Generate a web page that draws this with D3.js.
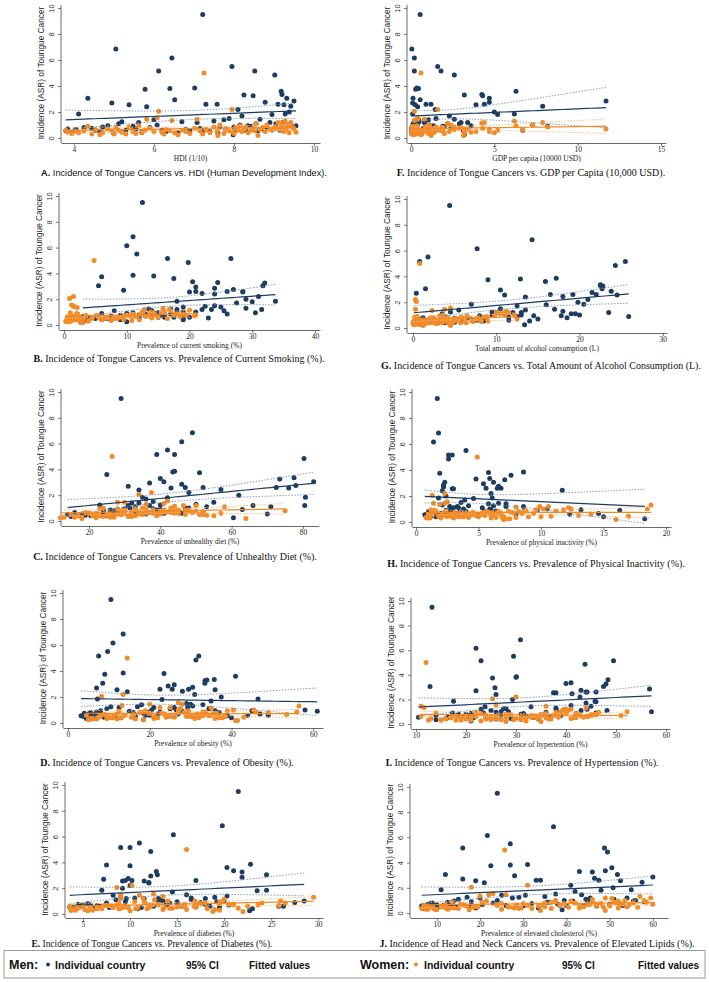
<!DOCTYPE html>
<html>
<head>
<meta charset="utf-8">
<script src="https://cdn.jsdelivr.net/npm/d3@7"></script>
<style>
  body { margin: 0; background: #fff; }
  svg { display: block; }
</style>
</head>
<body>
<div id="chart"></div>
<script>
// -------------------- DATA --------------------
// one entry per country, same order in every array

const menASR = [
  0.55, 0.70, 0.45, 0.65, 1.85, 0.80, 3.05, 0.75, 0.60, 0.50,
  0.85, 0.95, 2.70, 6.85, 1.10, 1.25, 0.60, 2.55, 0.90, 0.70,
  1.20, 0.45, 3.75, 2.40, 0.80, 1.40, 1.00, 5.15, 0.60, 0.50,
  3.80, 6.15, 2.95, 0.40, 1.25, 0.65, 0.55, 3.85, 1.20, 0.75,
  9.50, 0.60, 2.60, 0.50, 1.30, 2.60, 0.85, 1.40, 0.70, 1.50,
  5.50, 0.25, 0.60, 2.20, 1.00, 1.70, 3.30, 0.60, 0.95, 0.90,
  3.25, 5.15, 1.10, 0.55, 1.45, 0.70, 2.75, 0.80, 1.20, 1.80,
  4.85, 1.10, 2.60, 0.60, 3.60, 3.35, 1.20, 2.55, 1.85, 3.05,
  1.00, 2.00, 2.45, 0.90, 2.85, 0.95, 0.55, 0.40, 0.35, 0.85
];

const womenASR = [
  0.60, 0.45, 0.35, 0.50, 0.40, 0.55, 0.90, 0.30, 0.65, 0.25,
  0.40, 0.70, 0.55, 0.80, 0.60, 0.45, 0.30, 0.85, 0.50, 0.35,
  0.95, 0.40, 0.60, 1.45, 0.75, 0.50, 1.55, 2.05, 0.45, 0.65,
  0.55, 1.35, 0.40, 0.25, 0.60, 0.50, 0.35, 0.75, 1.45, 0.55,
  0.30, 5.00, 0.65, 0.40, 0.85, 0.50, 1.00, 0.35, 0.70, 0.55,
  2.20, 0.45, 0.80, 0.60, 0.95, 0.50, 0.70, 0.85, 0.40, 0.60,
  0.75, 0.55, 1.10, 0.20, 0.65, 0.80, 0.50, 1.00, 0.70, 0.60,
  0.85, 0.75, 1.20, 0.65, 0.95, 1.15, 0.80, 0.50, 1.30, 0.70,
  1.00, 0.40, 1.20, 0.85, 0.70, 0.45, 0.30, 0.20, 0.30, 0.35
];

// HDI (1/10), same for both sexes
const hdi = [
  3.80, 3.85, 3.95, 4.05, 4.12, 4.25, 4.35, 4.45, 4.55, 4.65,
  4.72, 4.85, 4.95, 5.05, 5.12, 5.20, 5.30, 5.38, 5.48, 5.55,
  5.62, 5.70, 5.78, 5.82, 5.90, 6.00, 6.08, 6.12, 6.20, 6.30,
  6.40, 6.45, 6.52, 6.60, 6.70, 6.80, 6.90, 7.02, 7.08, 7.15,
  7.22, 7.25, 7.30, 7.40, 7.50, 7.58, 7.65, 7.75, 7.80, 7.88,
  7.95, 7.98, 8.05, 8.10, 8.15, 8.20, 8.25, 8.30, 8.35, 8.42,
  8.48, 8.52, 8.55, 8.60, 8.65, 8.72, 8.78, 8.82, 8.90, 8.95,
  9.02, 9.05, 9.10, 9.15, 9.18, 9.20, 9.22, 9.25, 9.28, 9.32,
  9.35, 9.38, 9.42, 9.45, 9.50, 9.55, 6.25, 7.60, 5.00, 8.00
];

// GDP per capita (10000 USD), same for both sexes
const gdp = [
  0.05, 0.08, 0.04, 0.06, 0.10, 0.07, 0.12, 0.05, 0.09, 0.15,
  0.08, 0.18, 0.10, 0.05, 0.12, 0.20, 0.14, 0.25, 0.30, 0.22,
  0.35, 0.18, 0.28, 0.40, 0.32, 0.45, 0.38, 0.20, 0.50, 0.42,
  0.45, 0.20, 0.55, 0.60, 0.48, 0.70, 0.65, 0.35, 0.80, 0.75,
  0.55, 0.60, 0.90, 1.00, 0.85, 1.20, 1.10, 1.05, 1.30, 1.50,
  1.60, 3.20, 1.80, 1.45, 1.10, 2.30, 3.20, 1.50, 1.35, 1.90,
  4.30, 1.80, 2.20, 3.15, 2.60, 1.90, 4.70, 2.40, 3.40, 5.20,
  2.60, 2.90, 4.40, 6.70, 6.30, 4.25, 3.00, 3.90, 6.20, 4.70,
  7.30, 5.00, 7.90, 8.20, 11.70, 3.60, 0.30, 1.20, 0.06, 2.00
];

const smokeMen = [
  8, 14, 6, 12, 18, 10, 5.5, 9, 15, 7,
  13, 11, 9.5, 11, 8, 17, 4, 20, 14.5, 7.5,
  22, 3.5, 6, 24, 16, 19, 21, 16.5, 12, 5,
  14.3, 10, 21, 9, 13.5, 3, 23, 11, 18, 15.5,
  12.5, 9, 26, 6.5, 29, 28.5, 17, 25, 13, 24,
  11.6, 10, 20, 31, 19, 27.5, 24.5, 17.5, 30.5, 6,
  32, 26.6, 14, 19, 22.5, 9, 27, 12, 23.5, 30,
  19.8, 25.5, 21, 16, 17.5, 20.5, 31.5, 28.5, 33.7, 31.7,
  18, 29, 22, 10, 24, 15, 7, 19, 3.5, 26
];
const smokeWomen = [
  0.5, 1.2, 0.4, 0.8, 1.5, 0.6, 2.0, 0.3, 1.0, 0.5,
  1.8, 0.9, 2.5, 1.1, 0.7, 3.0, 0.4, 2.2, 1.3, 0.6,
  1.0, 0.5, 1.6, 1.5, 3.5, 0.8, 1.2, 0.9, 2.8, 1.4,
  4.5, 2.1, 6.0, 0.6, 3.2, 1.7, 7.5, 5.2, 1.5, 8.0,
  3.8, 4.8, 9.5, 2.4, 11.0, 6.5, 12.5, 4.0, 13.5, 7.0,
  1.5, 2.0, 14.5, 9.0, 15.5, 16.5, 10.5, 18.0, 12.0, 5.5,
  19.5, 14.0, 17.0, 3.0, 11.5, 21.0, 8.5, 16.0, 13.0, 15.0,
  19.0, 10.0, 12.8, 18.5, 14.2, 20.0, 17.5, 7.8, 15.8, 11.2,
  13.8, 9.5, 16.8, 12.2, 20.8, 6.2, 1.1, 2.6, 0.3, 10.8
];

const alcoholMen = [
  3, 0.3, 5, 0.5, 7, 1.2, 1.5, 2.5, 6, 0.2,
  4, 8, 0.4, 14.3, 3.5, 9.5, 0.6, 11, 12.5, 1.0,
  10, 0.1, 9.0, 13.5, 6.5, 5.5, 13.0, 0.8, 7.5, 2.0,
  12.9, 7.7, 10.5, 3.0, 4.5, 0.3, 8.5, 17.2, 12, 5,
  4.4, 0.7, 16.5, 2.2, 18, 19.2, 11.5, 13.5, 15, 10.5,
  1.8, 13.4, 8.0, 21, 20, 12.5, 22.5, 0.5, 17.8, 3.5,
  22.8, 25.5, 19.5, 14, 17, 7, 21.5, 18.5, 23.5, 16,
  24.3, 19, 22, 11.5, 15.9, 22.5, 13, 24.5, 20.5, 22.7,
  9.5, 19.8, 18, 25.9, 23.8, 14.5, 1.5, 3.8, 0.2, 8.8
];
const alcoholWomen = [
  0.8, 0.1, 1.5, 0.2, 2.0, 0.4, 0.5, 0.9, 2.2, 0.1,
  1.2, 2.5, 0.1, 4.0, 1.0, 3.0, 0.2, 3.5, 4.2, 0.3,
  3.2, 0.0, 2.8, 0.3, 2.0, 1.8, 4.5, 0.4, 2.4, 0.6,
  4.0, 2.3, 3.5, 0.9, 1.4, 0.1, 2.7, 5.5, 3.8, 1.6,
  1.3, 0.8, 5.2, 0.7, 5.8, 6.2, 3.6, 4.3, 4.8, 3.3,
  0.3, 4.3, 2.5, 7.0, 6.5, 4.0, 7.5, 0.2, 5.7, 1.1,
  7.8, 9.0, 10.5, 4.5, 5.5, 2.2, 7.2, 11.0, 8.0, 5.2,
  8.5, 6.2, 11.5, 3.8, 9.8, 10.8, 4.2, 8.2, 11.2, 7.6,
  12.2, 6.4, 10.0, 8.9, 12.5, 4.8, 0.5, 1.2, 0.1, 2.9
];

const dietMen = [
  22, 28, 18, 33, 35, 24, 41, 30, 36, 14,
  26, 38, 31, 49, 33, 23, 20, 43, 40, 27,
  37, 19, 51, 34, 45, 32, 47, 39, 29, 21,
  43.5, 46, 37, 25, 40, 16, 36, 44, 31, 28,
  29, 35, 47, 24, 50, 52, 39, 34, 45, 38,
  42, 60.5, 32, 48, 31.5, 36, 40, 46, 43, 63,
  73.5, 44, 71, 70, 55, 52, 78, 27, 66, 42,
  80.3, 53, 72.5, 41, 25, 77.5, 80.5, 76, 80.7, 83,
  48, 62, 57, 33, 46, 30, 18, 20.5, 15, 24
];
const dietWomen = [
  20, 25, 16, 29, 31, 22, 36, 27, 32, 12,
  23, 34, 28, 44, 30, 21, 18, 38, 35, 24,
  33, 17, 45, 30, 40, 29, 42, 34, 26, 19,
  39, 41, 33, 22, 36, 15, 32, 40, 28, 25,
  26, 26.5, 43, 21, 45, 47, 35, 31, 41, 34,
  37.5, 53, 29, 44, 28, 32, 36, 41, 39, 57,
  50, 40, 58, 64, 49, 47, 51, 24, 52, 38,
  48, 48, 46.5, 37, 23, 44, 75, 52, 36, 49,
  43, 55, 50, 30, 42, 27, 16, 18, 13, 22
];

const inactivityMen = [
  0.8, 1.5, 1.2, 2.0, 1.8, 1.0, 2.3, 3.5, 1.5, 1.1,
  5.5, 6.0, 2.2, 1.8, 3.0, 4.2, 2.2, 2.9, 2.4, 1.3,
  3.3, 0.9, 1.9, 2.1, 4.0, 5.8, 3.8, 2.6, 1.9, 1.0,
  5.8, 1.4, 5.4, 1.6, 6.2, 14.6, 1.2, 8.6, 2.7, 2.4,
  1.7, 5.0, 6.5, 2.0, 2.1, 5.6, 2.5, 7.2, 1.3, 3.6,
  4.0, 18.3, 0.9, 6.0, 5.9, 3.9, 4.8, 12.3, 2.8, 16.3,
  7.1, 2.9, 5.3, 1.7, 6.6, 3.1, 6.6, 2.8, 7.2, 4.6,
  2.6, 3.4, 6.8, 8.0, 7.6, 5.9, 8.6, 3.0, 6.1, 6.2,
  10.5, 2.4, 11.7, 9.7, 2.2, 13.2, 0.7, 15.0, 1.1, 6.4
];
const inactivityWomen = [
  1.0, 1.8, 0.8, 2.2, 2.5, 1.3, 1.5, 3.0, 4.0, 7.5,
  5.0, 6.5, 2.0, 1.6, 2.8, 3.6, 6.0, 2.4, 3.2, 8.0,
  1.2, 9.0, 2.6, 1.4, 4.5, 5.5, 2.5, 1.3, 7.0, 8.5,
  6.2, 1.9, 3.8, 7.2, 5.2, 13.0, 4.2, 5.8, 2.3, 6.8,
  2.0, 4.9, 3.5, 10.0, 8.6, 4.8, 10.2, 6.4, 4.6, 3.9,
  2.3, 17.0, 6.6, 5.4, 9.6, 3.3, 7.8, 11.2, 2.9, 14.0,
  7.6, 4.4, 12.2, 7.0, 5.9, 8.2, 3.6, 18.5, 6.8, 4.7,
  8.8, 3.1, 9.9, 9.4, 11.8, 8.0, 5.6, 2.7, 18.8, 6.1,
  12.4, 3.4, 10.6, 7.4, 5.3, 10.8, 0.9, 16.0, 1.1, 6.9
];

const obesityMen = [
  3.2, 5.0, 4.5, 6.5, 7.2, 5.5, 8.5, 4.0, 6.0, 3.8,
  7.0, 8.0, 7.0, 13.5, 9.5, 10.5, 5.2, 12, 15, 6.8,
  12.5, 8.8, 9.0, 14.5, 16, 18, 20.5, 7.5, 19, 11.5,
  23.5, 11, 26, 13, 17, 22, 24, 13.5, 21, 18.5,
  10.5, 20, 29.5, 16.5, 30.5, 25.5, 22.5, 33, 27, 29,
  9.7, 18.5, 24, 31, 26.5, 35, 34, 44, 36, 28,
  33.5, 32, 25, 39, 30, 47, 30.5, 37, 29.3, 23,
  31.3, 34.5, 22.5, 49, 41, 35.8, 26, 36, 46.5, 33.5,
  58, 37.5, 28, 61, 24.5, 45, 11.5, 40, 4.5, 20
];
const obesityWomen = [
  4.5, 7.5, 6.0, 10.0, 11.0, 8.0, 12.5, 5.5, 9.0, 5.0,
  10.5, 12.0, 11.0, 17.5, 14.0, 15.5, 7.0, 18.0, 21.0, 9.5,
  19.0, 13.0, 13.5, 20.0, 23.0, 25.0, 27.0, 8.2, 26.0, 16.0,
  30.0, 13.2, 32.0, 18.5, 24.0, 29.0, 31.0, 20.0, 28.0, 25.5,
  16.5, 14.5, 34.0, 22.0, 33.5, 30.5, 27.0, 36.0, 31.5, 33.0,
  13.5, 24.0, 28.5, 35.0, 29.5, 38.0, 36.5, 46.0, 37.0, 31.0,
  35.5, 34.5, 27.5, 41.0, 32.5, 49.0, 30.0, 40.5, 29.0, 26.0,
  33.0, 36.0, 22.5, 53.5, 39.0, 35.0, 27.0, 38.5, 56.5, 34.0,
  45.5, 37.8, 25.0, 56.0, 23.5, 43.0, 12.0, 41.5, 6.0, 21.0
];

const hypertensionMen = [
  10.5, 14, 16, 18, 17.5, 20, 12.8, 22, 19, 24,
  21, 26, 22, 30.9, 25, 28, 20.5, 38, 17.3, 27,
  23, 29, 25.3, 26, 31, 33, 28.5, 23, 32, 21.5,
  30, 22, 25.8, 34.5, 27.5, 36, 33.5, 30.1, 38, 35,
  13.2, 32, 44.2, 19, 38, 46, 42, 23.8, 39, 41,
  29.5, 21, 37, 42.8, 27, 44, 40, 16.5, 38.2, 46,
  48, 49.5, 43, 36.5, 45, 20, 43, 18.5, 39.8, 46,
  43.8, 48.2, 44, 34, 48.4, 41, 44.2, 37.5, 45.8, 47.5,
  57.1, 29.3, 41.2, 23.5, 56.7, 36, 16.5, 26, 14, 31.5
];
const hypertensionWomen = [
  11, 13, 15, 17, 16, 19, 14, 21, 18, 23,
  20, 24, 21, 28, 22, 26, 19, 23, 17, 25,
  22, 27, 25, 11, 29, 31, 26, 25.3, 30, 20,
  28, 11.6, 24, 32, 26, 34, 31, 28.5, 36, 33,
  18, 12, 35, 37, 36, 32, 39, 27, 37.5, 38.5,
  30, 41, 35, 34, 38, 42, 33, 40, 36.5, 44,
  45, 43.5, 40.5, 35, 43, 45.5, 41.5, 39, 38, 44.5,
  42, 46, 41, 33.5, 46.5, 39.5, 42.5, 36, 44, 45,
  52.2, 31, 40, 38.8, 51, 34.5, 15, 28, 12.5, 29.5
];

const diabetesMen = [
  3.6, 5.0, 4.2, 6.5, 7.0, 5.5, 12.9, 4.5, 8.0, 6.0,
  7.5, 9.5, 7.2, 19.8, 8.5, 10.5, 6.8, 9.2, 13.0, 5.8,
  11.5, 6.2, 10.0, 12.0, 14.0, 9.0, 13.5, 9.0, 15.5, 7.8,
  7.5, 14.6, 12.2, 10.8, 16.5, 4.8, 17, 22.8, 9.6, 18,
  21.5, 12.5, 17.0, 11.2, 19.0, 10.2, 15.0, 20.3, 13.8, 16.0,
  11.0, 22.7, 18.5, 10.0, 20.0, 14.5, 12.8, 25.8, 19.2, 17.5,
  21.9, 10.0, 13.2, 19.5, 8.2, 20.5, 9.8, 17.8, 13.0, 23.5,
  12.2, 16.5, 9.5, 26.3, 20.3, 21.0, 18.0, 11.5, 24.5, 24.5,
  28.5, 9.2, 12.0, 27.5, 21.9, 15.0, 4.0, 23.0, 3.8, 14.2
];
const diabetesWomen = [
  3.6, 4.5, 4.0, 5.8, 6.5, 5.0, 11.5, 4.2, 7.5, 5.5,
  7.0, 8.5, 6.5, 17.5, 8.0, 9.0, 6.0, 8.8, 12.0, 5.2,
  10.5, 5.8, 9.5, 11.0, 13.0, 8.2, 12.5, 8.6, 14.5, 7.2,
  7.0, 13.5, 11.8, 10.0, 15.5, 4.4, 16.0, 21.0, 9.0, 17.0,
  19.5, 16.0, 15.8, 10.6, 18.0, 9.8, 14.0, 19.0, 13.0, 15.0,
  10.2, 21.5, 17.5, 9.3, 19.8, 13.6, 12.0, 24.0, 18.2, 16.8,
  20.5, 9.5, 12.6, 18.8, 7.8, 19.5, 9.2, 16.9, 12.4, 22.5,
  11.6, 15.8, 9.0, 25.8, 19.6, 20.0, 17.2, 10.8, 29.5, 23.6,
  26.0, 8.8, 11.4, 26.5, 21.0, 14.2, 3.8, 22.0, 3.7, 13.5
];

const cholesterolMen = [
  6.5, 8, 7.5, 10, 11, 9, 12, 8.5, 13, 10.5,
  12.5, 14, 16, 37, 15, 17, 11.5, 19, 18, 13.5,
  20, 14.5, 22.5, 21, 23, 25, 24, 16, 26, 17.5,
  27, 21.7, 28, 19, 29, 20.5, 30, 31, 27.5, 32,
  24, 28.5, 33, 26.5, 35, 34, 36, 30.5, 38, 37.5,
  27, 39, 40, 41, 39.5, 42, 43, 44, 41.5, 45,
  46, 48.8, 44.5, 47, 43.5, 50, 46.5, 52, 45.5, 48,
  49.5, 51, 47.5, 53, 50.5, 49, 54, 52.5, 55, 51.8,
  56, 50.8, 57.5, 58, 60, 55.5, 7, 33.5, 6.8, 35.5
];
const cholesterolWomen = [
  7, 9, 6.5, 11, 12, 8, 13.5, 9.5, 12, 10,
  14, 15.5, 17, 35, 16.5, 18.5, 12.5, 20.5, 19, 15,
  21.5, 13, 24, 22, 25, 26.5, 23, 18, 27.5, 16,
  28.5, 20, 29.5, 17.5, 31, 19.5, 32, 30, 26, 33.5,
  25, 25.7, 34.5, 28, 36.5, 35, 37.5, 29, 39.5, 38.5,
  31, 40.5, 42, 43, 41, 44, 45.5, 46, 43, 47,
  48, 50, 46, 49, 45, 51.5, 48.5, 53.5, 47, 50,
  51, 52.5, 49, 54.5, 52, 50.5, 55.5, 54, 57, 53,
  58, 52, 59.5, 58.5, 60, 56.5, 8, 34, 7.5, 36.5
];

const yTicks = [0, 2, 4, 6, 8, 10];

// -------------------- LAYOUT --------------------

const width = 709, height = 982;
const menColor = "#1d3c61", womenColor = "#f28a26";
const menCIColor = "#7f93ad", womenCIColor = "#f6b877";

const panels = [
  { letter: "A.", caption: " Incidence of Tongue Cancers vs. HDI (Human Development Index).", sansCaption: true,
    xTitle: "HDI (1/10)", xm: hdi, xw: hdi, xlim: [3.68, 10.15], ticks: [4, 6, 8, 10],
    L: 61, R: 320, top: 8, bot: 138, axisY: 143, titleDy: 17.5, capX: 184, capY: 176, capSize: 9.2 },
  { letter: "B.", caption: " Incidence of Tongue Cancers vs. Prevalence of Current Smoking (%).",
    xTitle: "Prevalence of current smoking (%)", xm: smokeMen, xw: smokeWomen, xlim: [-0.8, 40.8], ticks: [0, 10, 20, 30, 40],
    L: 59, R: 320, top: 196, bot: 325, axisY: 330, titleDy: 17.5, capX: 179, capY: 362, capSize: 10 },
  { letter: "C.", caption: " Incidence of Tongue Cancers vs. Prevalence of Unhealthy Diet (%).",
    xTitle: "Prevalence of unhealthy diet (%)", xm: dietMen, xw: dietWomen, xlim: [12.15, 84.5], ticks: [20, 40, 60, 80],
    L: 61, R: 319, top: 392, bot: 521, axisY: 526, titleDy: 17.5, capX: 175, capY: 560, capSize: 10 },
  { letter: "D.", caption: " Incidence of Tongue Cancers vs. Prevalence of Obesity (%).",
    xTitle: "Prevalence of obesity (%)", xm: obesityMen, xw: obesityWomen, xlim: [-1.22, 62.4], ticks: [0, 20, 40, 60],
    L: 63, R: 323, top: 593, bot: 723, axisY: 728, titleDy: 17.5, capX: 167, capY: 766, capSize: 10 },
  { letter: "E.", caption: " Incidence of Tongue Cancers vs. Prevalence of Diabetes (%).",
    xTitle: "Prevalence of diabetes (%)", xm: diabetesMen, xw: diabetesWomen, xlim: [3.09, 30.5], ticks: [5, 10, 15, 20, 25, 30],
    L: 65, R: 323, top: 785, bot: 914, axisY: 918, titleDy: 17.5, capX: 152, capY: 947.3, capSize: 9.4 },
  { letter: "F.", caption: " Incidence of Tongue Cancers vs. GDP per Capita (10,000 USD).",
    xTitle: "GDP per capita (10000 USD)", xm: gdp, xw: gdp, xlim: [-0.24, 15.3], ticks: [0, 5, 10, 15],
    L: 407, R: 666, top: 8, bot: 138, axisY: 143, titleDy: 17.5, capX: 531, capY: 176, capSize: 10 },
  { letter: "G.", caption: " Incidence of Tongue Cancers vs. Total Amount of Alcohol Consumption (L).",
    xTitle: "Total amount of alcohol consumption (L)", xm: alcoholMen, xw: alcoholWomen, xlim: [-0.72, 30.5], ticks: [0, 10, 20, 30],
    L: 407, R: 667, top: 199, bot: 328, axisY: 333, titleDy: 17.5, capX: 541, capY: 369, capSize: 10 },
  { letter: "H.", caption: " Incidence of Tongue Cancers vs. Prevalence of Physical Inactivity (%).",
    xTitle: "Prevalence of physical inactivity (%)", xm: inactivityMen, xw: inactivityWomen, xlim: [-0.32, 20.4], ticks: [0, 5, 10, 15, 20],
    L: 412, R: 671, top: 392, bot: 522, axisY: 527, titleDy: 17.5, capX: 536, capY: 567, capSize: 10 },
  { letter: "I.", caption: " Incidence of Tongue Cancers vs. Prevalence of Hypertension (%).",
    xTitle: "Prevalence of hypertention (%)", xm: hypertensionMen, xw: hypertensionWomen, xlim: [9, 60.8], ticks: [10, 20, 30, 40, 50, 60],
    L: 411, R: 670, top: 601, bot: 724, axisY: 729, titleDy: 17.5, capX: 522, capY: 766, capSize: 10 },
  { letter: "J.", caption: " Incidence of Head and Neck Cancers vs. Prevalence of Elevated Lipids (%).",
    xTitle: "Prevalence of elevated cholesterol (%)", xm: cholesterolMen, xw: cholesterolWomen, xlim: [3.8, 63.5], ticks: [10, 20, 30, 40, 50, 60],
    L: 410, R: 668, top: 787, bot: 913, axisY: 918, titleDy: 17.5, capX: 537, capY: 947.3, capSize: 10 }
];

// -------------------- FIT (linear, 95% CI of mean) --------------------

function linearFit(xs, ys) {
  const n = xs.length;
  const xbar = d3.mean(xs), ybar = d3.mean(ys);
  let sxx = 0, sxy = 0;
  for (let i = 0; i < n; i++) {
    sxx += (xs[i] - xbar) ** 2;
    sxy += (xs[i] - xbar) * (ys[i] - ybar);
  }
  const b = sxy / sxx, a = ybar - b * xbar;
  let sse = 0;
  for (let i = 0; i < n; i++) sse += (ys[i] - a - b * xs[i]) ** 2;
  const s = Math.sqrt(sse / (n - 2));
  const t = 1.987;
  const [x0, x1] = d3.extent(xs);
  return d3.range(0, 41).map(k => {
    const x = x0 + (x1 - x0) * k / 40;
    const yh = a + b * x;
    const se = s * Math.sqrt(1 / n + (x - xbar) ** 2 / sxx);
    return { x: x, y: yh, lo: yh - t * se, hi: yh + t * se };
  });
}

// -------------------- DRAW --------------------

const svg = d3.select("#chart").append("svg")
  .attr("width", width)
  .attr("height", height)
  .attr("viewBox", [0, 0, width, height]);

const sans = "'Liberation Sans', Arial, sans-serif";
const serif = "'Liberation Serif', 'Times New Roman', serif";

function drawPanel(p) {
  const g = svg.append("g");
  const x = d3.scaleLinear().domain(p.xlim).range([p.L, p.R]);
  const y = d3.scaleLinear().domain([0, 10]).range([p.bot, p.top]);

  // axes
  const xAxis = g.append("g")
    .attr("transform", `translate(0,${p.axisY})`)
    .call(d3.axisBottom(x).tickValues(p.ticks).tickSize(3).tickSizeOuter(0).tickFormat(d3.format("d")));
  xAxis.select(".domain").attr("stroke", "#444").attr("stroke-width", 0.8);
  xAxis.selectAll(".tick line").attr("stroke", "#444").attr("stroke-width", 0.7);
  xAxis.selectAll(".tick text")
    .attr("font-family", serif).attr("font-size", 7.5).attr("fill", "#222")
    .attr("y", 8.5).attr("dy", null);

  const yAxis = g.append("g")
    .attr("transform", `translate(${p.L},0)`)
    .call(d3.axisLeft(y).tickValues(yTicks).tickSize(3).tickSizeOuter(0));
  yAxis.select(".domain")
    .attr("d", `M0,${p.axisY}V${p.top - 3}`)
    .attr("stroke", "#444").attr("stroke-width", 0.8);
  yAxis.selectAll(".tick line").attr("stroke", "#444").attr("stroke-width", 0.7);
  yAxis.selectAll(".tick text")
    .attr("font-family", sans).attr("font-size", 7.5).attr("fill", "#333")
    .attr("x", null).attr("dy", null)
    .attr("text-anchor", "middle")
    .attr("transform", "translate(-7,0) rotate(-90)");

  g.append("text")
    .attr("transform", `translate(${p.L - 17},${(p.top + p.bot) / 2}) rotate(-90)`)
    .attr("text-anchor", "middle")
    .attr("font-family", sans).attr("font-size", 8.3).attr("fill", "#222")
    .text("Incidence (ASR) of Toungue Cancer");

  g.append("text")
    .attr("x", (p.L + p.R) / 2).attr("y", p.axisY + p.titleDy)
    .attr("text-anchor", "middle")
    .attr("font-family", serif).attr("font-size", 7.5).attr("fill", "#222")
    .text(p.xTitle);

  // points
  g.append("g").selectAll("circle")
    .data(p.xm.map((v, i) => [v, menASR[i]]))
    .join("circle")
    .attr("cx", d => x(d[0])).attr("cy", d => y(d[1]))
    .attr("r", 2.5).attr("fill", menColor);

  g.append("g").selectAll("circle")
    .data(p.xw.map((v, i) => [v, womenASR[i]]))
    .join("circle")
    .attr("cx", d => x(d[0])).attr("cy", d => y(d[1]))
    .attr("r", 2.5).attr("fill", womenColor);

  // fitted lines with CI
  const series = [
    { fit: linearFit(p.xm, menASR), line: menColor, ci: menCIColor },
    { fit: linearFit(p.xw, womenASR), line: womenColor, ci: womenCIColor }
  ];
  for (let s of series) {
    for (let key of ["lo", "hi"]) {
      g.append("path")
        .datum(s.fit)
        .attr("fill", "none")
        .attr("stroke", s.ci).attr("stroke-width", 0.9)
        .attr("stroke-dasharray", "1.5,1.5")
        .attr("d", d3.line().x(d => x(d.x)).y(d => y(d[key])));
    }
    g.append("path")
      .datum(s.fit)
      .attr("fill", "none")
      .attr("stroke", s.line).attr("stroke-width", 1.2)
      .attr("d", d3.line().x(d => x(d.x)).y(d => y(d.y)));
  }

  // caption
  const cap = g.append("text")
    .attr("x", p.capX).attr("y", p.capY)
    .attr("text-anchor", "middle")
    .attr("font-family", p.sansCaption ? sans : serif)
    .attr("font-size", p.capSize)
    .attr("fill", "#111");
  cap.append("tspan").attr("font-weight", "bold").text(p.letter);
  cap.append("tspan").text(p.caption);
}

panels.forEach(drawPanel);

// -------------------- LEGEND --------------------

const legend = svg.append("g");
legend.append("rect")
  .attr("x", 4).attr("y", 950.5).attr("width", 701).attr("height", 27.5)
  .attr("fill", "none").attr("stroke", "#999").attr("stroke-width", 1);

const legendItems = [
  { text: "Men:", x: 9, size: 12.5, weight: "bold" },
  { dot: menColor, x: 48 },
  { text: "Individual country", x: 55, size: 10.5, weight: 600 },
  { text: "95% CI", x: 186, size: 10, weight: 600 },
  { text: "Fitted values", x: 249, size: 10, weight: 600 },
  { text: "Women:", x: 360, size: 12.5, weight: "bold" },
  { dot: womenColor, x: 416 },
  { text: "Individual country", x: 424, size: 10.5, weight: 600 },
  { text: "95% CI", x: 562, size: 10, weight: 600 },
  { text: "Fitted values", x: 638, size: 10, weight: 600 }
];
for (let it of legendItems) {
  if (it.dot) {
    legend.append("circle").attr("cx", it.x).attr("cy", 964.5).attr("r", 2).attr("fill", it.dot);
  } else {
    legend.append("text")
      .attr("x", it.x).attr("y", 968.5)
      .attr("font-family", sans).attr("font-size", it.size).attr("font-weight", it.weight)
      .attr("fill", "#111")
      .text(it.text);
  }
}
</script>
</body>
</html>
